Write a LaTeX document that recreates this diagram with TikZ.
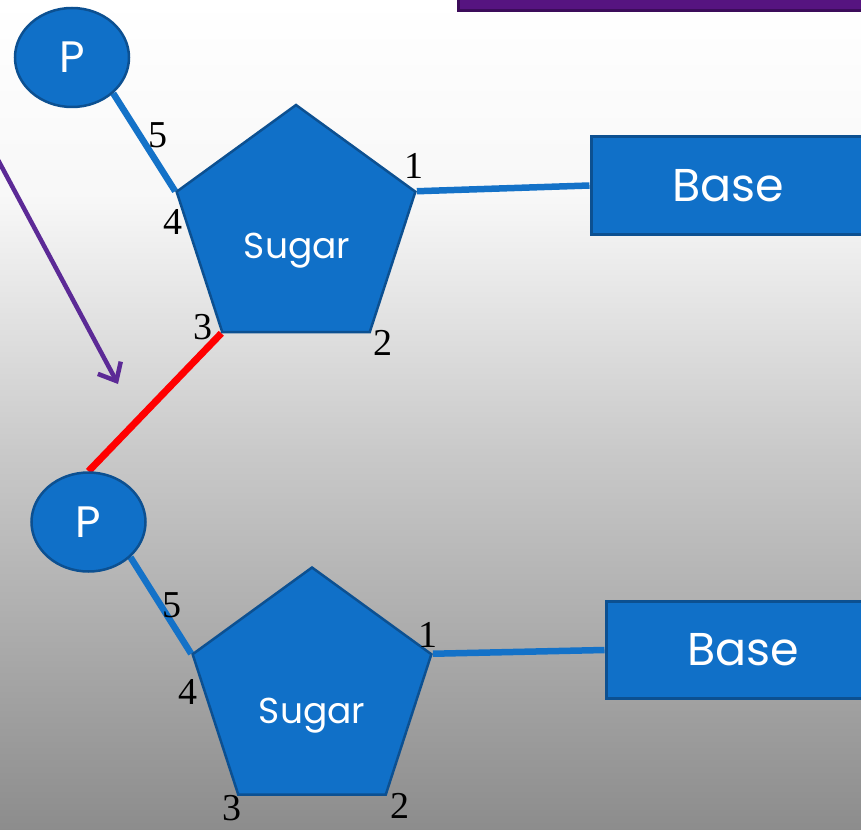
\documentclass[tikz,border=0pt]{standalone}
\usepackage{fontspec}
\setmainfont{Liberation Serif}
\newfontfamily\gothic{Poppins}
\usetikzlibrary{shapes.geometric,arrows.meta}
\definecolor{dnablue}{RGB}{16,112,200}
\definecolor{dnaedge}{RGB}{12,80,145}
\definecolor{linkblue}{RGB}{20,114,200}
\definecolor{arrowpurple}{RGB}{92,42,150}
\definecolor{barpurple}{RGB}{86,20,128}
\definecolor{baredge}{RGB}{60,12,90}
\pgfdeclarelayer{back}
\pgfdeclarelayer{links}
\pgfsetlayers{back,links,main}
\begin{document}
\begin{tikzpicture}[x=1pt,y=-1pt,
  phos/.style={ellipse,fill=dnablue,draw=dnaedge,line width=2.5pt,
    minimum width=114pt,minimum height=99pt,inner sep=0pt,text=white,
    font=\gothic\fontsize{44}{44}\selectfont},
  sugarshape/.style={regular polygon,regular polygon sides=5,fill=dnablue,
    draw=dnaedge,line width=2.5pt,minimum size=251pt,inner sep=0pt},
  sugartext/.style={text=white,inner sep=0pt,anchor=base,font=\gothic\fontsize{36}{36}\selectfont},
  basebox/.style={rectangle,fill=dnablue,draw=dnaedge,line width=3pt,
    minimum width=274pt,minimum height=97pt,inner sep=0pt,text=white,
    font=\gothic\fontsize{46}{46}\selectfont},
  num/.style={inner sep=0pt,font=\fontsize{38}{38}\selectfont},
  bluelink/.style={draw=linkblue,line width=6.5pt},
  redlink/.style={draw=red,line width=7pt},
  hint/.style={draw=arrowpurple,line width=4.5pt,line cap=round,
    -{Straight Barb[length=15pt,width=26pt,line width=4.5pt]}}
]
\useasboundingbox (0,0) rectangle (861,829);
\clip (0,0) rectangle (861,829);
\begin{pgfonlayer}{back}
  \shade[top color=white,bottom color=black!3] (0,-1) rectangle (861,200);
  \shade[top color=black!3,bottom color=black!21] (0,199) rectangle (861,450);
  \shade[top color=black!21,bottom color=black!45] (0,449) rectangle (861,830);
\end{pgfonlayer}

% title bar fragment
\node (titlebar) [rectangle,fill=barpurple,draw=baredge,line width=2.5pt,
  minimum width=420pt,minimum height=30pt,anchor=south west] at (457,12) {};

% phosphates
\node (P1) [phos] at (72,57.5) {P};
\node (P2) [phos] at (88.5,522) {P};

% sugars
\node (S1) [sugarshape] at (296,230.5) {};
\node (S1t) [sugartext] at (297,258) {Sugar};
\node (S2) [sugarshape] at (312,693) {};
\node (S2t) [sugartext] at (312,723) {Sugar};

% bases
\node (B1) [basebox] at (728,185.5) {Base};
\node (B2) [basebox] at (743,650) {Base};

% carbon numbers
\node (n15) [num] at (158,135) {5};
\node (n14) [num] at (173,222) {4};
\node (n11) [num] at (414,166) {1};
\node (n12) [num] at (383,343) {2};
\node (n13) [num] at (203,327) {3};
\node (n25) [num] at (172,605) {5};
\node (n24) [num] at (188,692) {4};
\node (n21) [num] at (428,635) {1};
\node (n22) [num] at (400,806) {2};
\node (n23) [num] at (232,808) {3};

% arrow
\coordinate (hintstart) at (-3,158);
\coordinate (hinttip) at (118,384);

\begin{pgfonlayer}{links}
  \draw[bluelink] (P1.-41.6) -- (S1.corner 2);
  \draw[bluelink] (S1.corner 5) -- (B1.west);
  \draw[redlink] (S1.corner 3) -- (P2.north);
  \draw[bluelink] (P2.-40.7) -- (S2.corner 2);
  \draw[bluelink] (S2.corner 5) -- (B2.west);
\end{pgfonlayer}
\draw[hint] (hintstart) -- (hinttip);
\end{tikzpicture}
\end{document}
